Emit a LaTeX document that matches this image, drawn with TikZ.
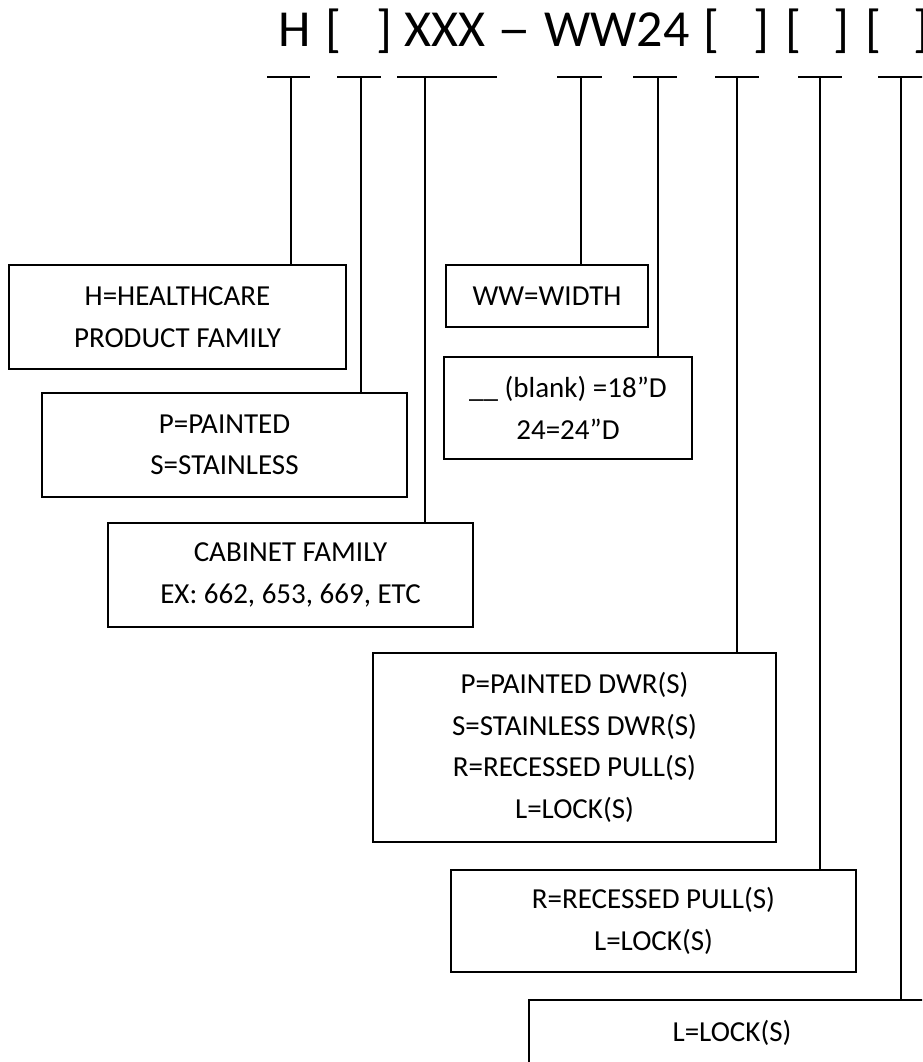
\documentclass[tikz,border=0pt]{standalone}
\usepackage{fontspec}
\usepackage{graphicx}
\setmainfont{Carlito}
\begin{document}
\begin{tikzpicture}[x=1pt,y=-1pt,
  box/.style={draw,line width=2pt,inner sep=0pt,align=center,
    font=\fontsize{29}{41.5}\selectfont},
  hdr/.style={inner sep=0pt,anchor=base west,font=\fontsize{52}{60}\selectfont},
  conn/.style={line width=2pt},
  tick/.style={line width=2pt}]
\useasboundingbox (0,0) rectangle (922,1062);
\clip (0,0) rectangle (922,1062);

% header
\node[hdr] (hH) at (278,47) {H};
\node[hdr] (hb1) at (325,47) {[};
\node[hdr] (hc1) at (376,47) {]};
\node[hdr] (hX) at (404,47) {XXX};
\node[hdr] (hd) at (497,47) {\scalebox{1.3}[1]{–}};
\node[hdr] (hW) at (544,47) {WW24};
\node[hdr] (hb2) at (703,47) {[};
\node[hdr] (hc2) at (753,47) {]};
\node[hdr] (hb3) at (785,47) {[};
\node[hdr] (hc3) at (833,47) {]};
\node[hdr] (hb4) at (865,47) {[};
\node[hdr] (hc4) at (913,47) {]};

% boxes
\node[box,minimum width=337,minimum height=104] (b1) at (177.5,317) {H=HEALTHCARE\\PRODUCT FAMILY};
\node[box,minimum width=365,minimum height=104] (b2) at (224.5,445) {P=PAINTED\\S=STAINLESS};
\node[box,minimum width=365,minimum height=104] (b3) at (290.5,575) {CABINET FAMILY\\EX: 662, 653, 669, ETC};
\node[box,minimum width=202,minimum height=62] (bw) at (547,296) {WW=WIDTH};
\node[box,minimum width=248,minimum height=102] (bb) at (568,408) {\_\_ (blank) =18”D\\24=24”D};
\node[box,minimum width=403,minimum height=189] (b4) at (574.5,747.5) {P=PAINTED DWR(S)\\S=STAINLESS DWR(S)\\R=RECESSED PULL(S)\\L=LOCK(S)};
\node[box,minimum width=405,minimum height=102] (b5) at (653.5,921) {R=RECESSED PULL(S)\\L=LOCK(S)};
\node[box,minimum width=406,minimum height=66] (b6) at (732,1033) {L=LOCK(S)};

% tick marks and connectors
\coordinate (t1) at (291,77);
\coordinate (t2) at (361,77);
\coordinate (t3) at (425,77);
\coordinate (t4) at (581,77);
\coordinate (t5) at (658,77);
\coordinate (t6) at (737,77);
\coordinate (t7) at (820,77);
\coordinate (t8) at (901,77);

\draw[tick] (267,77) -- (310,77);
\draw[tick] (337,77) -- (381,77);
\draw[tick] (397,77) -- (497,77);
\draw[tick] (557,77) -- (602,77);
\draw[tick] (633,77) -- (677,77);
\draw[tick] (715,77) -- (759,77);
\draw[tick] (798,77) -- (842,77);
\draw[tick] (878,77) -- (926,77);

\draw[conn] (t1) -- (t1 |- b1.north);
\draw[conn] (t2) -- (t2 |- b2.north);
\draw[conn] (t3) -- (t3 |- b3.north);
\draw[conn] (t4) -- (t4 |- bw.north);
\draw[conn] (t5) -- (t5 |- bb.north);
\draw[conn] (t6) -- (t6 |- b4.north);
\draw[conn] (t7) -- (t7 |- b5.north);
\draw[conn] (t8) -- (t8 |- b6.north);
\end{tikzpicture}
\end{document}
